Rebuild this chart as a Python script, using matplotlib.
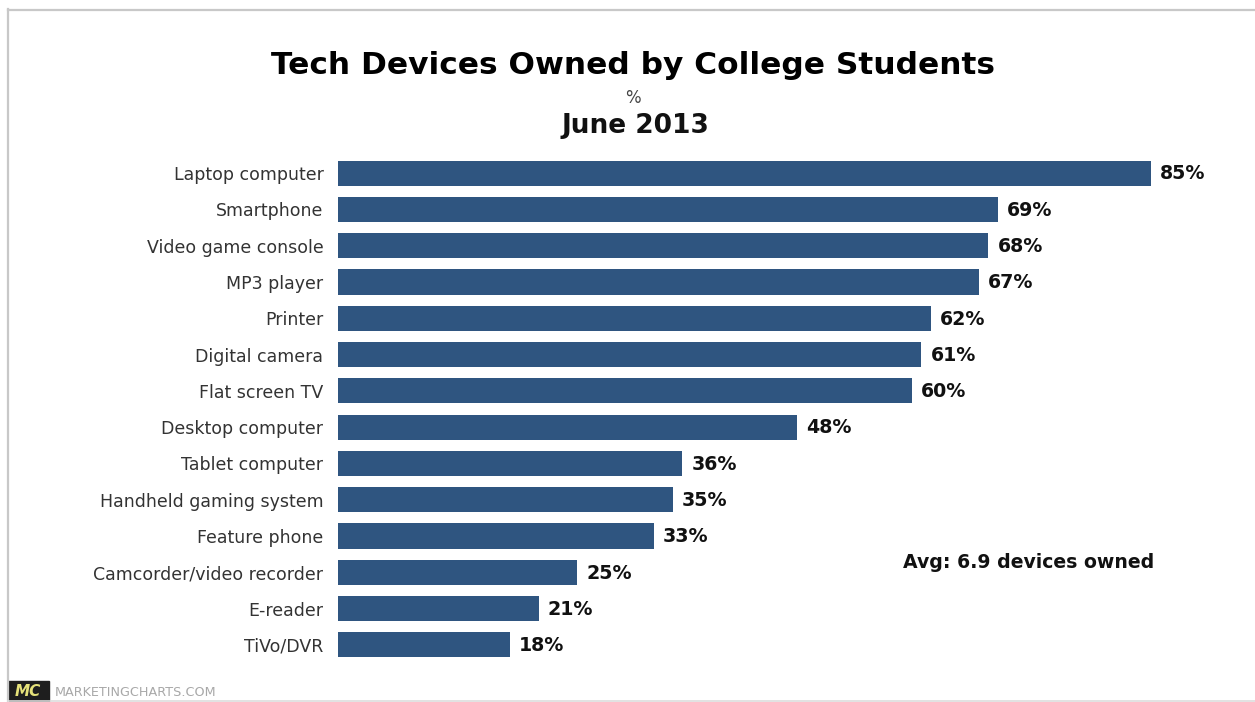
import matplotlib
matplotlib.use("Agg")
import matplotlib.pyplot as plt
from matplotlib.patches import Rectangle

devices = ["Laptop computer", "Smartphone", "Video game console", "MP3 player", "Printer",
           "Digital camera", "Flat screen TV", "Desktop computer", "Tablet computer",
           "Handheld gaming system", "Feature phone", "Camcorder/video recorder", "E-reader", "TiVo/DVR"]
owned = [85, 69, 68, 67, 62, 61, 60, 48, 36, 35, 33, 25, 21, 18]

W, H = 1255, 702
BAR_COLOR = "#2f5580"

plt.rcParams['font.family'] = ['DejaVu Sans']
fig = plt.figure(figsize=(W / 100, H / 100), dpi=100)

# outer frame, open on the right
frame = "#c8c8c8"
fig.add_artist(plt.Line2D([8 / W, 8 / W], [0, 1 - 9 / H], color=frame, lw=1.6))
fig.add_artist(plt.Line2D([8 / W, 1], [1 - 9.5 / H, 1 - 9.5 / H], color=frame, lw=1.6))
fig.add_artist(plt.Line2D([8 / W, 1], [1 - 700.5 / H, 1 - 700.5 / H], color="#dddddd", lw=1.2))

# axes placed so that one x unit is about 9.565 px
left, right, top, bottom = 338, 1243, 155, 663
ax = fig.add_axes([left / W, 1 - bottom / H, (right - left) / W, (bottom - top) / H])
ypos = list(range(len(devices)))
ax.barh(ypos, owned, height=0.69, color=BAR_COLOR)
ax.set_xlim(0, (right - left) / 9.565)
ax.set_ylim(len(devices) - 0.5, -0.5)
ax.set_yticks(ypos)
ax.set_yticklabels(devices, fontsize=12.5, color="#333333")
ax.tick_params(axis='y', length=0, pad=10.5)
ax.set_xticks([])
for s in ax.spines.values():
    s.set_visible(False)

for y, v in zip(ypos, owned):
    ax.text(v + 0.95, y + 0.02, "%d%%" % v, va='center', ha='left', fontsize=13.7,
            fontweight='bold', color="#111111")

fig.text(633 / W, 1 - 66 / H, "Tech Devices Owned by College Students", ha='center', va='center',
         fontsize=22.5, fontweight='bold', color="black")
fig.text(633 / W, 1 - 98 / H, "%", ha='center', va='center', fontsize=12, color="#444444")
fig.text(635 / W, 1 - 126 / H, "June 2013", ha='center', va='center', fontsize=19,
         fontweight='bold', color="#111111")
fig.text(1029 / W, 1 - 563 / H, "Avg: 6.9 devices owned", ha='center', va='center', fontsize=13.6,
         fontweight='bold', color="#111111")

# footer logo and site name
fig.add_artist(Rectangle((8 / W, 0), 41 / W, 21 / H, transform=fig.transFigure, color="#1e1e1e"))
fig.text(28 / W, 1 - 692 / H, "MC", ha='center', va='center', fontsize=11, fontweight='bold',
         fontstyle='italic', color="#e6e27a")
fig.text(55 / W, 1 - 692 / H, "MARKETINGCHARTS.COM", ha='left', va='center', fontsize=9.2, color="#a8a8a8")

fig.savefig("out.png", dpi=100)
